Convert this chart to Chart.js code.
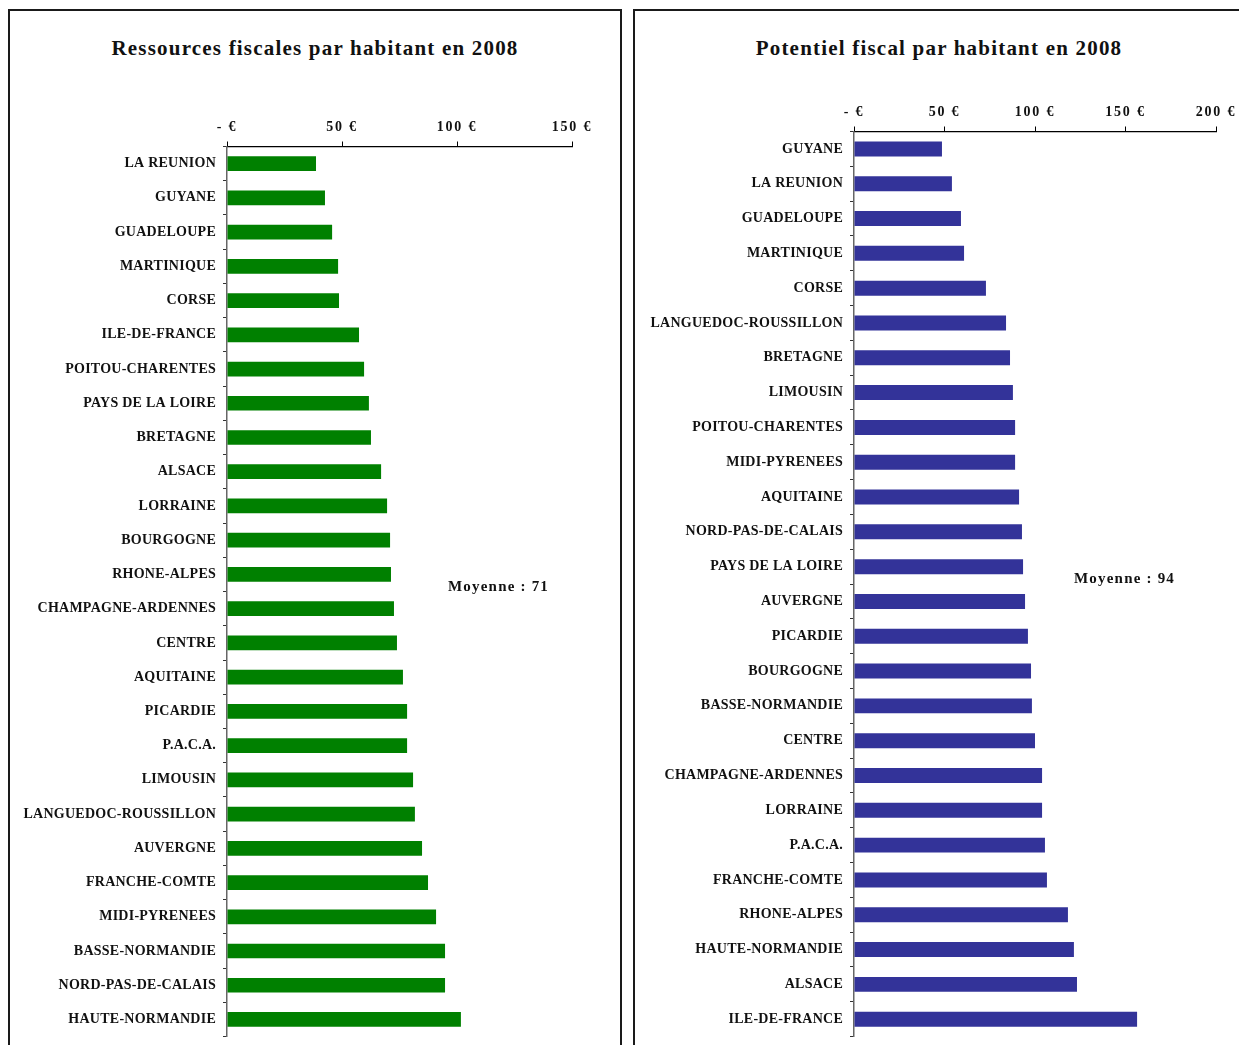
<!DOCTYPE html>
<html lang="fr">
<head>
  <meta charset="UTF-8">
  <title>Ressources et potentiel fiscal par habitant en 2008</title>
  <script src="https://cdn.jsdelivr.net/npm/chart.js@4.4.1/dist/chart.umd.min.js"></script>
  <style>
    body { margin: 0; padding: 0; background: #fff; overflow: hidden; width: 1239px; height: 1045px; position: relative; }
    .panel { position: absolute; top: 9px; height: 1060px; border: 2px solid #1a1a1a; background: #fff; }
    .title { position: absolute; top: 25px; left: 0; width: 100%; text-align: center;
             font-family: "Liberation Serif", serif; font-weight: bold; font-size: 21px; letter-spacing: 1.2px; color: #111; }
    .moy { position: absolute; font-family: "Liberation Serif", serif; font-weight: bold; font-size: 15px; letter-spacing: 1.2px; color: #111; }
    canvas { position: absolute; }
  </style>
</head>
<body>

  <div class="panel" style="left: 8px; width: 610px;">
    <div class="title">Ressources fiscales par habitant en 2008</div>
    <canvas id="chartRes" style="left: 0; top: 1px;"></canvas>
    <div class="moy" style="left: 438px; top: 567px;">Moyenne : 71</div>
  </div>

  <div class="panel" style="left: 633px; width: 640px;">
    <div class="title" style="width: 608px;">Potentiel fiscal par habitant en 2008</div>
    <canvas id="chartPot" style="left: 0; top: 1px;"></canvas>
    <div class="moy" style="left: 439px; top: 559px;">Moyenne : 94</div>
  </div>

  <script>
    // Ressources fiscales par habitant (euros)
    const resRegions = ["LA REUNION", "GUYANE", "GUADELOUPE", "MARTINIQUE", "CORSE", "ILE-DE-FRANCE",
      "POITOU-CHARENTES", "PAYS DE LA LOIRE", "BRETAGNE", "ALSACE", "LORRAINE", "BOURGOGNE",
      "RHONE-ALPES", "CHAMPAGNE-ARDENNES", "CENTRE", "AQUITAINE", "PICARDIE", "P.A.C.A.",
      "LIMOUSIN", "LANGUEDOC-ROUSSILLON", "AUVERGNE", "FRANCHE-COMTE", "MIDI-PYRENEES",
      "BASSE-NORMANDIE", "NORD-PAS-DE-CALAIS", "HAUTE-NORMANDIE"];
    const resValues = [38.7, 42.6, 45.7, 48.3, 48.7, 57.4, 59.6, 61.7, 62.6, 67.0, 69.6, 70.9,
      71.3, 72.6, 73.9, 76.5, 78.3, 78.3, 80.9, 81.7, 84.8, 87.4, 90.9, 94.8, 94.8, 101.7];

    // Potentiel fiscal par habitant (euros)
    const potRegions = ["GUYANE", "LA REUNION", "GUADELOUPE", "MARTINIQUE", "CORSE",
      "LANGUEDOC-ROUSSILLON", "BRETAGNE", "LIMOUSIN", "POITOU-CHARENTES", "MIDI-PYRENEES",
      "AQUITAINE", "NORD-PAS-DE-CALAIS", "PAYS DE LA LOIRE", "AUVERGNE", "PICARDIE", "BOURGOGNE",
      "BASSE-NORMANDIE", "CENTRE", "CHAMPAGNE-ARDENNES", "LORRAINE", "P.A.C.A.", "FRANCHE-COMTE",
      "RHONE-ALPES", "HAUTE-NORMANDIE", "ALSACE", "ILE-DE-FRANCE"];
    const potValues = [48.6, 54.1, 59.1, 60.8, 72.9, 84.0, 86.2, 87.8, 89.0, 89.0, 91.2, 92.8,
      93.4, 94.5, 96.1, 97.8, 98.3, 100.0, 103.9, 103.9, 105.5, 106.6, 118.2, 121.5, 123.2, 156.4];

    const resTicks = [0, 50, 100, 150];
    const potTicks = [0, 50, 100, 150, 200];

    const serif = "'Liberation Serif', serif";

    // canvas letter spacing is lost whenever the canvas gets resized;
    // region names use a tight spacing, the euro ticks (drawn after the bars) a wider one
    const spacing = {
      id: "spacing",
      beforeUpdate(chart) { chart.ctx.letterSpacing = "0.25px"; },
      beforeDraw(chart) { chart.ctx.letterSpacing = "0.25px"; },
      afterDatasetsDraw(chart) { chart.ctx.letterSpacing = "1.8px"; }
    };

    function euro(v) { return v === 0 ? "- €" : v + " €"; }

    function makeChart(id, w, h, labels, values, color, ticks, yWidth, pad) {
      const cv = document.getElementById(id);
      cv.style.width = w + "px";
      cv.style.height = h + "px";
      return new Chart(cv, {
        type: "bar",
        data: {
          labels: labels,
          datasets: [{
            data: values,
            backgroundColor: color,
            barPercentage: 0.43,
            categoryPercentage: 1
          }]
        },
        options: {
          indexAxis: "y",
          responsive: false,
          animation: false,
          devicePixelRatio: 1,
          layout: { padding: pad },
          plugins: { legend: { display: false }, tooltip: { enabled: false } },
          scales: {
            x: {
              position: "top",
              min: 0,
              max: ticks[ticks.length - 1],
              afterBuildTicks(s) { s.ticks = ticks.map(v => ({ value: v })); },
              afterFit(s) { s.height = 26; },
              border: { display: true, color: "#000", width: 1.2 },
              grid: { drawOnChartArea: false, drawTicks: true, tickLength: 5, color: "#000", lineWidth: 1 },
              ticks: {
                z: 1,
                callback: euro,
                color: "#111",
                padding: 5.5,
                maxRotation: 0,
                font: { family: serif, weight: "bold", size: 14 }
              }
            },
            y: {
              afterFit(s) { s.width = yWidth; },
              border: { display: true, color: "#666", width: 1.5 },
              grid: { drawOnChartArea: false, drawTicks: true, tickLength: 4, color: "#333", lineWidth: 1 },
              ticks: {
                color: "#111",
                padding: 7,
                autoSkip: false,
                font: { family: serif, weight: "bold", size: 14 }
              }
            }
          }
        },
        plugins: [spacing]
      });
    }

    // panel interiors start at page x 10 / 635, y 12
    makeChart("chartRes", 610, 1040, resRegions, resValues, "#008000", resTicks, 217,
      { top: 108.5, right: 48, bottom: 14, left: 0 });
    makeChart("chartPot", 640, 1040, potRegions, potValues, "#333399", potTicks, 219,
      { top: 93.5, right: 59, bottom: 15, left: 0 });
  </script>
</body>
</html>
